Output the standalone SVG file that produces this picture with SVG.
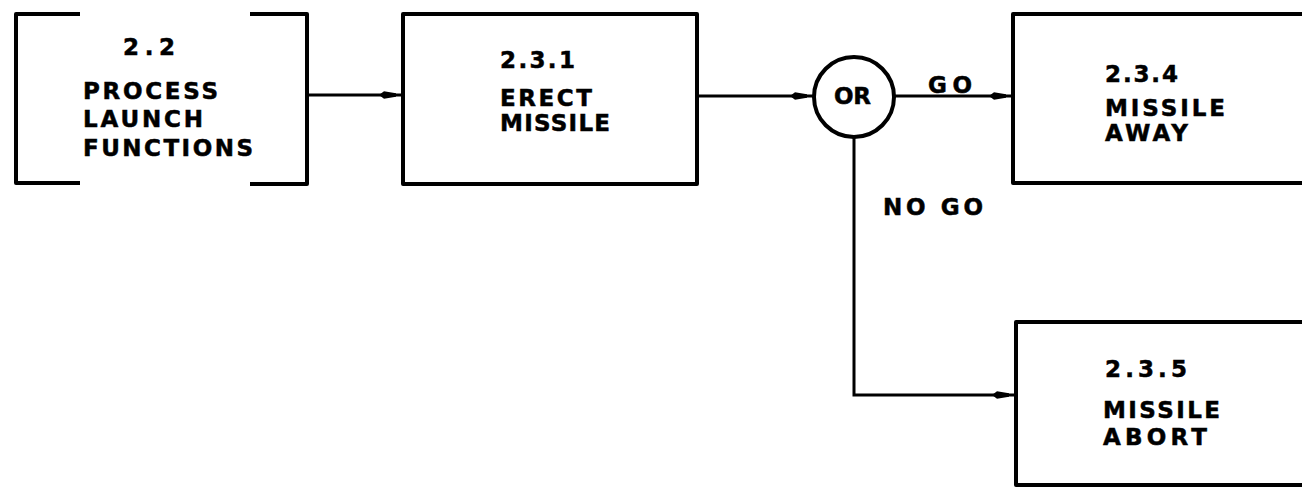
<svg xmlns="http://www.w3.org/2000/svg" width="1302" height="487" viewBox="0 0 1302 487">
<style>
  .box { fill: none; stroke: #000; stroke-width: 4; stroke-linejoin: round; }
  .edge { fill: none; stroke: #000; stroke-width: 3; }
  .t { font-family: "DejaVu Sans", "Liberation Sans", sans-serif; font-weight: bold; font-size: 23px; fill: #000; stroke: #000; stroke-width: 0.5; }
</style>
<defs>
  <marker id="arr" viewBox="0 0 26 8" refX="24" refY="4" markerWidth="26" markerHeight="8" markerUnits="userSpaceOnUse" orient="auto">
    <path d="M0,4 L5,0.3 L17,2.3 L17,5.7 L5,7.7 Z" fill="#000"/>
  </marker>
</defs>
<rect width="1302" height="487" fill="#fff"/>
<g id="n22">
  <path class="box" d="M80,14 H16 V183 H80"/>
  <path class="box" d="M250,14 H307 V184 H250"/>
  <text class="t" x="123" y="55" textLength="52" lengthAdjust="spacing">2.2</text>
  <text class="t" x="83" y="99" textLength="135" lengthAdjust="spacing">PROCESS</text>
  <text class="t" x="83" y="127" textLength="120" lengthAdjust="spacing">LAUNCH</text>
  <text class="t" x="83" y="156" textLength="170" lengthAdjust="spacing">FUNCTIONS</text>
</g>
<g id="n231">
  <rect class="box" x="403" y="14" width="294" height="170"/>
  <text class="t" x="500" y="68" textLength="75" lengthAdjust="spacing">2.3.1</text>
  <text class="t" x="500" y="106" textLength="92" lengthAdjust="spacing">ERECT</text>
  <text class="t" x="500" y="131" textLength="110" lengthAdjust="spacing">MISSILE</text>
</g>
<g id="or">
  <circle cx="854" cy="97" r="40" fill="none" stroke="#000" stroke-width="4"/>
  <text class="t" x="834" y="104" textLength="37" lengthAdjust="spacing">OR</text>
</g>
<g id="n234">
  <rect class="box" x="1013" y="14" width="320" height="169"/>
  <text class="t" x="1105" y="82" textLength="73" lengthAdjust="spacing">2.3.4</text>
  <text class="t" x="1105" y="116" textLength="120" lengthAdjust="spacing">MISSILE</text>
  <text class="t" x="1105" y="141" textLength="83" lengthAdjust="spacing">AWAY</text>
</g>
<g id="n235">
  <rect class="box" x="1016" y="322" width="320" height="163"/>
  <text class="t" x="1105" y="377" textLength="82" lengthAdjust="spacing">2.3.5</text>
  <text class="t" x="1103" y="418" textLength="117" lengthAdjust="spacing">MISSILE</text>
  <text class="t" x="1103" y="445" textLength="104" lengthAdjust="spacing">ABORT</text>
</g>
<g id="connectors">
  <path class="edge" d="M307,95 H403" marker-end="url(#arr)"/>
  <path class="edge" d="M697,96 H814" marker-end="url(#arr)"/>
  <path class="edge" d="M894,96 H1013" marker-end="url(#arr)"/>
  <path class="edge" d="M854,137 V395 H1016" marker-end="url(#arr)"/>
  <text class="t" x="928" y="93" textLength="44" lengthAdjust="spacing">GO</text>
  <text class="t" x="883" y="215" textLength="100" lengthAdjust="spacing">NO GO</text>
</g>
</svg>
